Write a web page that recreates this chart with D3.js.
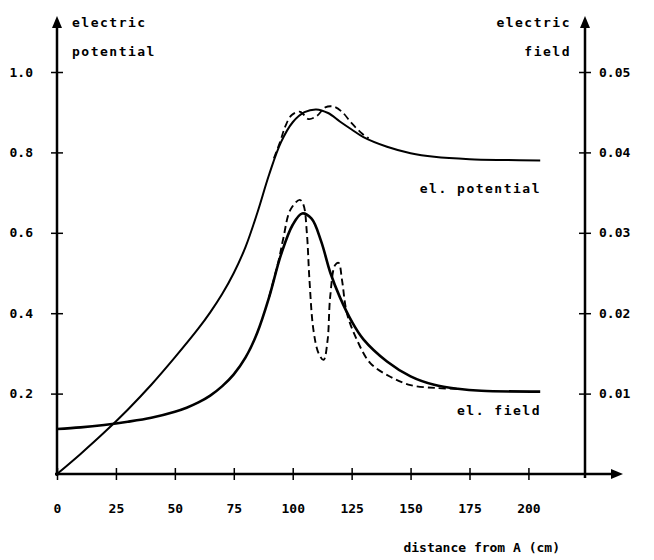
<!DOCTYPE html>
<html>
<head>
<meta charset="utf-8">
<script src="https://cdn.jsdelivr.net/npm/d3@7"></script>
<style>
  body { margin: 0; background: #fff; }
  text { font-family: "DejaVu Sans Mono", monospace; font-weight: bold; fill: #000; }
</style>
</head>
<body>
<svg width="654" height="560"></svg>
<script>
// distance from A (cm) and electric potential, solid curve
var potDist = [0, 10, 20, 30, 40, 50, 60, 65, 70, 75, 80, 85, 90, 95, 100, 105, 110, 115, 120, 125, 130, 140, 150, 160, 175, 190, 205];
var potVal  = [0, 0.05, 0.103, 0.16, 0.222, 0.29, 0.362, 0.402, 0.447, 0.5, 0.565, 0.65, 0.745, 0.825, 0.875, 0.9, 0.907, 0.898, 0.877, 0.857, 0.838, 0.814, 0.798, 0.789, 0.783, 0.781, 0.78];

// electric potential, dashed curve
var potDashDist = [92, 94.7, 96.8, 99.6, 103.2, 106.7, 110.3, 113.8, 117.3, 120.9, 125.1, 129.4, 132.2];
var potDashVal  = [0.785, 0.827, 0.864, 0.893, 0.901, 0.883, 0.891, 0.912, 0.914, 0.901, 0.872, 0.847, 0.835];

// electric field, solid curve
var fieldDist = [0, 10, 20, 30, 40, 50, 55, 60, 65, 70, 75, 80, 85, 90, 95, 100, 104, 108, 112, 116, 120, 125, 130, 140, 150, 160, 170, 180, 205];
var fieldVal  = [0.0056, 0.0058, 0.0061, 0.0065, 0.007, 0.00775, 0.00825, 0.0089, 0.00975, 0.0109, 0.0124, 0.0145, 0.0176, 0.022, 0.02725, 0.031, 0.0324, 0.03175, 0.029, 0.025, 0.022, 0.019, 0.01675, 0.014, 0.01215, 0.0111, 0.0106, 0.01035, 0.01025];

// electric field, dashed curve
var fieldDashDist = [90, 94, 96, 99, 103, 104.6, 106, 107.1, 108.8, 111, 113.1, 114.8, 115.9, 118, 119.5, 120.9, 123, 127.3, 132.9, 141.4, 150, 161, 170];
var fieldDashVal  = [0.022, 0.0265, 0.0293, 0.03285, 0.0341, 0.03345, 0.03, 0.02415, 0.0179, 0.015, 0.0142, 0.01665, 0.02205, 0.026, 0.02625, 0.02415, 0.02, 0.01665, 0.0138, 0.0121, 0.01105, 0.0107, 0.0106];

var xTicks = [0, 25, 50, 75, 100, 125, 150, 175, 200];
var potTicks = [0.2, 0.4, 0.6, 0.8, 1.0];
var fieldTicks = [0.01, 0.02, 0.03, 0.04, 0.05];

var svg = d3.select("svg");

var x = d3.scaleLinear().domain([0, 224]).range([57, 585]);
var yPot = d3.scaleLinear().domain([0, 1]).range([474, 72]);
var yField = d3.scaleLinear().domain([0, 0.05]).range([474, 72]);

function zip(a, b){
	return a.map(function(d, i){ return [d, b[i]]; });
}

function drawCurve(dist, vals, yScale, width, dashed){
	var line = d3.line()
		.x(function(d){ return x(d[0]); })
		.y(function(d){ return yScale(d[1]); })
		.curve(d3.curveCatmullRom.alpha(0.5));
	svg.append("path")
		.attr("d", line(zip(dist, vals)))
		.style("fill", "none")
		.style("stroke", "#000")
		.style("stroke-width", width)
		.style("stroke-dasharray", dashed ? "7,4" : null)
		.style("stroke-linejoin", "round");
}

// axes lines with arrow heads
function arrow(x0, y0, x1, y1){
	svg.append("line")
		.attr("x1", x0).attr("y1", y0).attr("x2", x1).attr("y2", y1)
		.style("stroke", "#000").style("stroke-width", 2.5);
}
arrow(57, 476, 57, 24);
arrow(585, 478, 585, 24);
arrow(55, 474, 614, 474);
svg.append("path").attr("d", "M57,16 L52,28 L62,28 Z");
svg.append("path").attr("d", "M585,16 L580,28 L590,28 Z");
svg.append("path").attr("d", "M623,474 L611,469 L611,479 Z");

// axes through d3, cross style ticks
var gl = svg.append("g").attr("transform", "translate(57,0)")
	.call(d3.axisLeft(yPot).tickValues(potTicks).tickFormat(d3.format(".1f")).tickSize(6).tickPadding(18));
var gr = svg.append("g").attr("transform", "translate(585,0)")
	.call(d3.axisRight(yField).tickValues(fieldTicks).tickFormat(d3.format(".2f")).tickSize(6).tickPadding(8));
var gb = svg.append("g").attr("transform", "translate(0,474)")
	.call(d3.axisBottom(x).tickValues(xTicks).tickFormat(d3.format("d")).tickSize(6).tickPadding(24));

[gl, gr].forEach(function(g){
	g.select(".domain").remove();
	g.selectAll(".tick line").attr("x1", function(){ return -d3.select(this).attr("x2"); })
		.style("stroke-width", 1.5);
	g.selectAll(".tick text").style("font-size", "13px");
});
gb.select(".domain").remove();
gb.selectAll(".tick line").attr("y1", -6).style("stroke-width", 1.5);
gb.selectAll(".tick text").style("font-size", "13px");

// curves
drawCurve(potDist, potVal, yPot, 2, false);
drawCurve(potDashDist, potDashVal, yPot, 1.8, true);
drawCurve(fieldDist, fieldVal, yField, 2.6, false);
drawCurve(fieldDashDist, fieldDashVal, yField, 1.9, true);

// texts
function label(t, tx, ty, anchor, spacing){
	svg.append("text")
		.attr("x", tx).attr("y", ty)
		.attr("text-anchor", anchor)
		.style("font-size", "13px")
		.style("letter-spacing", spacing + "px")
		.text(t);
}
label("electric", 72, 27, "start", 1.5);
label("potential", 72, 56, "start", 1.5);
label("electric", 571, 27, "end", 1.5);
label("field", 571, 56, "end", 1.5);
label("el. potential", 541, 193, "end", 1.5);
label("el. field", 541, 415, "end", 1.5);
label("distance from A (cm)", 560, 552, "end", 0);
</script>
</body>
</html>
